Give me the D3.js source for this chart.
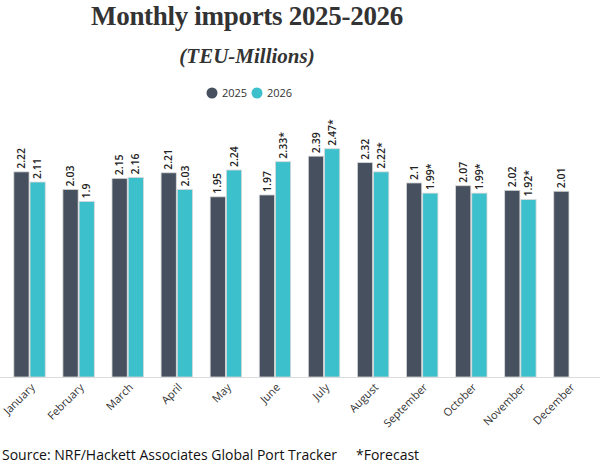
<!DOCTYPE html>
<html>
<head>
<meta charset="utf-8">
<script src="https://cdn.jsdelivr.net/npm/d3@7"></script>
<style>
  body { margin: 0; background: #fff; }
  svg { display: block; }
</style>
</head>
<body>
<div id="chart"></div>
<script>
const months = ["January", "February", "March", "April", "May", "June",
  "July", "August", "September", "October", "November", "December"]
const series = ["2025", "2026"]
const values2025 = [2.22, 2.03, 2.15, 2.21, 1.95, 1.97, 2.39, 2.32, 2.1, 2.07, 2.02, 2.01]
const values2026 = [2.11, 1.9, 2.16, 2.03, 2.24, 2.33, 2.47, 2.22, 1.99, 1.99, 1.92, null]
// 2026 months that are forecasts get a "*"
const forecast2026 = [false, false, false, false, false, true, true, true, true, true, true, false]

const colors = { "2025": "#46505f", "2026": "#3cc0cb" }

const width = 600, height = 465
const baseline = 377

const svg = d3.select("#chart").append("svg")
  .attr("width", width)
  .attr("height", height)

const rows = months.map((m, i) => ({
  month: m,
  bars: [
    { key: "2025", value: values2025[i], star: false },
    { key: "2026", value: values2026[i], star: forecast2026[i] }
  ].filter(b => b.value != null)
}))

const x = d3.scaleBand()
  .domain(months)
  .range([5, 594])
  .paddingInner(0.36)
  .paddingOuter(0.18)

const xInner = d3.scaleBand()
  .domain(series)
  .range([0, x.bandwidth()])
  .paddingInner(0.06)

const y = d3.scaleLinear()
  .domain([0, 2.5])
  .range([baseline, baseline - 231])

// header
const cx = 247
svg.append("text")
  .attr("x", cx).attr("y", 25)
  .attr("text-anchor", "middle")
  .style("font-family", "'Liberation Serif', serif")
  .style("font-weight", "bold")
  .style("font-size", "27px")
  .style("letter-spacing", "-0.3px")
  .style("fill", "#333")
  .text("Monthly imports 2025-2026")

svg.append("text")
  .attr("x", cx).attr("y", 63)
  .attr("text-anchor", "middle")
  .style("font-family", "'Liberation Serif', serif")
  .style("font-weight", "bold")
  .style("font-style", "italic")
  .style("font-size", "21px")
  .style("fill", "#333")
  .text("(TEU-Millions)")

const legend = svg.append("g").attr("transform", "translate(212,93)")
series.forEach((s, i) => {
  const g = legend.append("g").attr("transform", `translate(${i * 45},0)`)
  g.append("circle").attr("r", 5.5).attr("fill", colors[s])
  g.append("text")
    .attr("x", 10).attr("dy", "0.35em")
    .style("font-family", "'Open Sans', sans-serif")
    .style("font-size", "11px")
    .style("fill", "#333")
    .text(s)
})

// baseline
svg.append("line")
  .attr("x1", 0).attr("x2", width)
  .attr("y1", baseline + 0.5).attr("y2", baseline + 0.5)
  .attr("stroke", "#dcdcdc")

const groups = svg.append("g").selectAll("g")
  .data(rows)
  .join("g")
  .attr("transform", d => `translate(${x(d.month)},0)`)

groups.selectAll("rect")
  .data(d => d.bars)
  .join("rect")
  .attr("x", d => xInner(d.key))
  .attr("width", xInner.bandwidth())
  .attr("y", d => y(d.value))
  .attr("height", d => baseline - y(d.value))
  .attr("fill", d => colors[d.key])
  .attr("stroke", "#d8d8d8")
  .attr("stroke-width", 0.8)

groups.selectAll("text.val")
  .data(d => d.bars)
  .join("text")
  .attr("class", "val")
  .attr("transform", d => `translate(${xInner(d.key) + xInner.bandwidth() / 2},${y(d.value) - 3}) rotate(-90)`)
  .attr("dy", "0.35em")
  .style("font-family", "'Open Sans', sans-serif")
  .style("font-size", "10.5px")
  .style("font-weight", "600")
  .style("fill", "#222")
  .text(d => d.value + (d.star ? "*" : ""))

// month labels
svg.append("g").selectAll("text")
  .data(months)
  .join("text")
  .attr("transform", d => `translate(${x(d) + x.bandwidth() / 2 + 6},${baseline + 11}) rotate(-45)`)
  .attr("text-anchor", "end")
  .style("font-family", "'Open Sans', sans-serif")
  .style("font-size", "11px")
  .style("fill", "#333")
  .text(d => d)

svg.append("text")
  .attr("x", 2).attr("y", 460)
  .style("font-family", "'Open Sans', sans-serif")
  .style("font-size", "14px")
  .style("fill", "#111")
  .text("Source: NRF/Hackett Associates Global Port Tracker")

svg.append("text")
  .attr("x", 356).attr("y", 460)
  .style("font-family", "'Open Sans', sans-serif")
  .style("font-size", "14px")
  .style("fill", "#111")
  .text("*Forecast")
</script>
</body>
</html>
